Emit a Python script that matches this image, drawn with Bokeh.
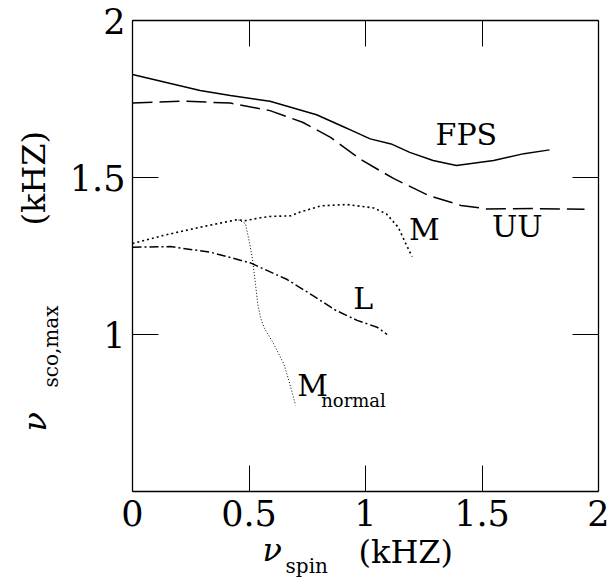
import math
from bokeh.plotting import figure
from bokeh.models import Range1d, LinearAxis, FixedTicker, NumeralTickFormatter, Label
from bokeh.embed import file_html
from bokeh.resources import INLINE

# ---- data ----
fps_x = [0.0, 0.29, 0.42, 0.59, 0.79, 0.91, 0.94, 1.02, 1.11, 1.19, 1.29, 1.39, 1.55, 1.68, 1.79]
fps_y = [1.828, 1.777, 1.761, 1.743, 1.700, 1.660, 1.650, 1.623, 1.607, 1.580, 1.554, 1.538, 1.554, 1.576, 1.588]

uu_x = [0.0, 0.22, 0.42, 0.59, 0.73, 0.85, 0.98, 1.12, 1.27, 1.41, 1.52, 1.72, 1.94]
uu_y = [1.737, 1.743, 1.737, 1.713, 1.676, 1.628, 1.557, 1.497, 1.443, 1.411, 1.400, 1.401, 1.399]

m_x = [0.0, 0.13, 0.28, 0.45, 0.48, 0.55, 0.59, 0.68, 0.72, 0.81, 0.92, 1.035, 1.09, 1.14, 1.17, 1.20]
m_y = [1.290, 1.315, 1.340, 1.366, 1.362, 1.372, 1.376, 1.378, 1.390, 1.410, 1.414, 1.403, 1.384, 1.342, 1.294, 1.248]

mn_x = [0.455, 0.485, 0.50, 0.515, 0.528, 0.537, 0.549, 0.564, 0.606, 0.649, 0.671, 0.70]
mn_y = [1.365, 1.353, 1.300, 1.240, 1.160, 1.100, 1.055, 1.023, 0.970, 0.907, 0.854, 0.774]

l_x = [0.0, 0.163, 0.335, 0.506, 0.664, 0.778, 0.87, 0.964, 1.05, 1.093]
l_y = [1.278, 1.280, 1.262, 1.228, 1.175, 1.122, 1.078, 1.045, 1.023, 1.000]

x_ticks = [0, 0.5, 1, 1.5, 2]
y_ticks = [1, 1.5, 2]
x_lim = (0, 2)
y_lim = (0.5, 2)

FONT = "DejaVu Serif"

# The frame spans the whole canvas; the axes sit at fixed data locations so the
# axis titles (with subscripts) can be drawn as ordinary labels around them.
W, H = 609, 582
FL, FR, FT, FB = 132, 598, 20, 491           # box edges in pixels
sx = (x_lim[1] - x_lim[0]) / (FR - FL)
sy = (y_lim[1] - y_lim[0]) / (FB - FT)
x_range = Range1d(x_lim[0] - FL * sx, x_lim[1] + (W - FR) * sx)
y_range = Range1d(y_lim[0] - (H - FB) * sy, y_lim[1] + FT * sy)

p = figure(width=W, height=H, x_range=x_range, y_range=y_range,
           output_backend="svg", toolbar_location=None,
           x_axis_location=None, y_axis_location=None, min_border=0)
p.grid.visible = False
p.outline_line_color = None
p.background_fill_color = "white"
p.border_fill_color = "white"


def make_axis(side, loc, ticks, bounds, show_labels, standoff=6):
    ax = LinearAxis(fixed_location=loc, bounds=bounds)
    ax.ticker = FixedTicker(ticks=ticks, minor_ticks=[])
    ax.major_tick_in = 26
    ax.major_tick_out = 0
    ax.minor_tick_in = 0
    ax.minor_tick_out = 0
    ax.major_tick_line_color = "black"
    ax.major_tick_line_width = 1
    ax.axis_line_color = "black"
    ax.axis_line_width = 1.3
    if show_labels:
        ax.formatter = NumeralTickFormatter(format="0.[0]")
        ax.major_label_text_font = FONT
        ax.major_label_text_font_size = "35px"
        ax.major_label_text_color = "black"
        ax.major_label_standoff = standoff
        ax.major_label_orientation = "horizontal"
    else:
        ax.major_label_text_color = None
    p.add_layout(ax, side)
    return ax


make_axis("below", y_lim[0], x_ticks, x_lim, True, 8)
make_axis("left", x_lim[0], y_ticks, y_lim, True, 7)
make_axis("above", y_lim[1], x_ticks, x_lim, False)
make_axis("right", x_lim[1], y_ticks, y_lim, False)

p.line(fps_x, fps_y, line_color="black", line_width=1.5)
p.line(uu_x, uu_y, line_color="black", line_width=1.5, line_dash="20 7")
p.line(m_x, m_y, line_color="black", line_width=1.6, line_dash="2 3")
p.line(mn_x, mn_y, line_color="black", line_width=1.0, line_dash="1 2")
p.line(l_x, l_y, line_color="black", line_width=1.5, line_dash="9 3 2 3")

BASE_SHIFT = 0.42   # fraction of the font size between anchor and drawn baseline


def lab(x, y, text, size, align="left", angle=0.0, style_="normal"):
    px = float(size.replace("px", ""))
    if angle == 0.0:
        y = y + BASE_SHIFT * px * sy
    else:
        x = x - BASE_SHIFT * px * sx
    p.add_layout(Label(x=x, y=y, text=text, text_font=FONT, text_font_size=size,
                       text_align=align, text_baseline="alphabetic",
                       text_color="black", angle=angle, text_font_style=style_))


# curve labels (x, baseline y)
lab(1.433, 1.597, "FPS", "30px", "center")
lab(1.651, 1.305, "UU", "30px", "center")
lab(1.253, 1.294, "M", "30px", "center")
lab(0.99, 1.074, "L", "30px", "center")
lab(0.707, 0.798, "M", "30px", "left")
lab(0.81, 0.767, "normal", "18px", "left")

# x axis title
lab(0.558, 0.270, "ν", "32px", "left", 0.0, "italic")
lab(0.657, 0.236, "spin", "20px", "left")
lab(0.970, 0.265, "(kHZ)", "32px", "left")

# y axis title (rotated)
a = math.pi / 2
lab(-0.362, 0.691, "ν", "32px", "left", a, "italic")
lab(-0.313, 0.831, "sco,max", "20px", "left", a)
lab(-0.365, 1.347, "(kHZ)", "32px", "left", a)

open("out.html", "w").write(file_html(p, INLINE))
